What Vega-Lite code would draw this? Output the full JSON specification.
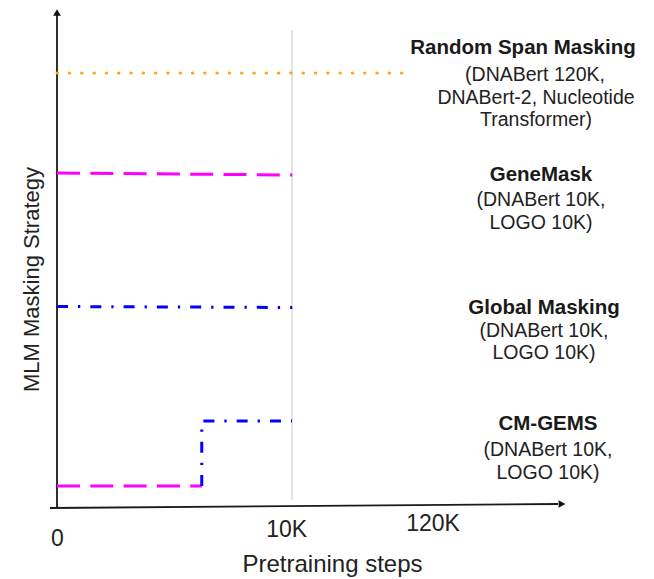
{
  "$schema": "https://vega.github.io/schema/vega-lite/v6.json",
  "width": 654,
  "height": 579,
  "autosize": {"type": "none"},
  "padding": 0,
  "background": "white",
  "config": {"view": {"stroke": null}, "text": {"font": "Liberation Sans"}},
  "datasets": {
    "paths": [
      {"series": "random", "step": 0, "level": 8.66, "ord": 1},
      {"series": "random", "step": 120000, "level": 8.66, "ord": 2},
      {"series": "genemask", "step": 0, "level": 6.66, "ord": 1},
      {"series": "genemask", "step": 10300, "level": 6.62, "ord": 2},
      {"series": "global", "step": 0, "level": 3.99, "ord": 1},
      {"series": "global", "step": 10300, "level": 3.97, "ord": 2},
      {"series": "cm_mask", "step": 0, "level": 0.4, "ord": 1},
      {"series": "cm_mask", "step": 6160, "level": 0.4, "ord": 2},
      {"series": "cm_step", "step": 6160, "level": 0.4, "ord": 1},
      {"series": "cm_step", "step": 6160, "level": 1.7, "ord": 2},
      {"series": "cm_step", "step": 10000, "level": 1.7, "ord": 3}
    ],
    "guides": [
      {"series": "yaxis", "step": 0, "level": -0.04, "ord": 1},
      {"series": "yaxis", "step": 0, "level": 9.9, "ord": 2},
      {"series": "xaxis", "step": -300, "level": -0.04, "ord": 1},
      {"series": "xaxis", "step": 276000, "level": 0.04, "ord": 2},
      {"series": "grid", "step": 10000, "level": 0.12, "ord": 1},
      {"series": "grid", "step": 10000, "level": 9.52, "ord": 2}
    ],
    "arrows": [
      {"dir": "up", "step": 0, "level": 9.87},
      {"dir": "right", "step": 280000, "level": 0.04}
    ],
    "labels": [
      {"t": "Random Span Masking", "step": 241000, "level": 9.05, "b": 1},
      {"t": "(DNABert 120K,", "step": 253000, "level": 8.51, "b": 0},
      {"t": "DNABert-2, Nucleotide", "step": 254000, "level": 8.05, "b": 0},
      {"t": "Transformer)", "step": 254000, "level": 7.61, "b": 0},
      {"t": "GeneMask", "step": 259000, "level": 6.5, "b": 1},
      {"t": "(DNABert 10K,", "step": 259000, "level": 6.0, "b": 0},
      {"t": "LOGO 10K)", "step": 259000, "level": 5.54, "b": 0},
      {"t": "Global Masking", "step": 262000, "level": 3.846, "b": 1},
      {"t": "(DNABert 10K,", "step": 262000, "level": 3.38, "b": 0},
      {"t": "LOGO 10K)", "step": 262000, "level": 2.94, "b": 0},
      {"t": "CM-GEMS", "step": 266000, "level": 1.52, "b": 1},
      {"t": "(DNABert 10K,", "step": 266000, "level": 1.0, "b": 0},
      {"t": "LOGO 10K)", "step": 266000, "level": 0.54, "b": 0}
    ],
    "ticks": [
      {"t": "0", "step": 20, "level": -0.8},
      {"t": "10K", "step": 9770, "level": -0.62},
      {"t": "120K", "step": 151000, "level": -0.5}
    ],
    "xtitle": [{"t": "Pretraining steps", "step": 50500, "level": -1.32}],
    "ytitle": [{"t": "MLM Masking Strategy", "step": -766, "level": 4.53}]
  },
  "layer": [
    {
      "data": {"name": "guides"},
      "transform": [{"filter": "datum.series == 'grid'"}],
      "mark": {"type": "line", "color": "#c8c8c8", "strokeWidth": 1},
      "encoding": {
        "x": {"field": "step", "type": "quantitative", "axis": null, "scale": {"type": "linear", "domain": [-2426, 0, 10000, 120000, 372000], "range": [0, 57, 292, 402, 654], "zero": false, "nice": false}},
        "y": {"field": "level", "type": "quantitative", "axis": null, "scale": {"type": "linear", "domain": [-1.46, 10.12], "range": [579, 0], "zero": false, "nice": false}},
        "order": {"field": "ord"}
      }
    },
    {
      "data": {"name": "guides"},
      "transform": [{"filter": "datum.series == 'yaxis'"}],
      "mark": {"type": "line", "color": "#1a1a1a", "strokeWidth": 1.8},
      "encoding": {
        "x": {"field": "step", "type": "quantitative"},
        "y": {"field": "level", "type": "quantitative"},
        "order": {"field": "ord"}
      }
    },
    {
      "data": {"name": "guides"},
      "transform": [{"filter": "datum.series == 'xaxis'"}],
      "mark": {"type": "line", "color": "#1a1a1a", "strokeWidth": 1.8},
      "encoding": {
        "x": {"field": "step", "type": "quantitative"},
        "y": {"field": "level", "type": "quantitative"},
        "order": {"field": "ord"}
      }
    },
    {
      "data": {"name": "arrows"},
      "transform": [{"filter": "datum.dir == 'up'"}],
      "mark": {"type": "point", "shape": "triangle-up", "filled": true, "color": "#111111", "size": 60, "opacity": 1},
      "encoding": {
        "x": {"field": "step", "type": "quantitative"},
        "y": {"field": "level", "type": "quantitative"}
      }
    },
    {
      "data": {"name": "arrows"},
      "transform": [{"filter": "datum.dir == 'right'"}],
      "mark": {"type": "point", "shape": "triangle-right", "filled": true, "color": "#111111", "size": 60, "opacity": 1},
      "encoding": {
        "x": {"field": "step", "type": "quantitative"},
        "y": {"field": "level", "type": "quantitative"}
      }
    },
    {
      "data": {"name": "paths"},
      "transform": [{"filter": "datum.series == 'random'"}],
      "mark": {"type": "line", "color": "#ffa31a", "strokeWidth": 3, "strokeCap": "round", "strokeDash": [0.5, 11.8]},
      "encoding": {
        "x": {"field": "step", "type": "quantitative"},
        "y": {"field": "level", "type": "quantitative"},
        "order": {"field": "ord"}
      }
    },
    {
      "data": {"name": "paths"},
      "transform": [{"filter": "datum.series == 'genemask' || datum.series == 'cm_mask'"}],
      "mark": {"type": "line", "color": "#ff00ff", "strokeWidth": 3, "strokeDash": [23, 10.3]},
      "encoding": {
        "x": {"field": "step", "type": "quantitative"},
        "y": {"field": "level", "type": "quantitative"},
        "detail": {"field": "series"},
        "order": {"field": "ord"}
      }
    },
    {
      "data": {"name": "paths"},
      "transform": [{"filter": "datum.series == 'global' || datum.series == 'cm_step'"}],
      "mark": {"type": "line", "color": "#0000ff", "strokeWidth": 3, "strokeDash": [11, 10, 2.3, 10]},
      "encoding": {
        "x": {"field": "step", "type": "quantitative"},
        "y": {"field": "level", "type": "quantitative"},
        "detail": {"field": "series"},
        "order": {"field": "ord"}
      }
    },
    {
      "data": {"name": "labels"},
      "transform": [{"filter": "datum.b == 1"}],
      "mark": {"type": "text", "fontSize": 20.5, "fontWeight": "bold", "color": "#1a1a1a", "align": "center", "baseline": "alphabetic"},
      "encoding": {
        "x": {"field": "step", "type": "quantitative"},
        "y": {"field": "level", "type": "quantitative"},
        "text": {"field": "t", "type": "nominal"}
      }
    },
    {
      "data": {"name": "labels"},
      "transform": [{"filter": "datum.b == 0"}],
      "mark": {"type": "text", "fontSize": 19.5, "color": "#222222", "align": "center", "baseline": "alphabetic"},
      "encoding": {
        "x": {"field": "step", "type": "quantitative"},
        "y": {"field": "level", "type": "quantitative"},
        "text": {"field": "t", "type": "nominal"}
      }
    },
    {
      "data": {"name": "ticks"},
      "mark": {"type": "text", "fontSize": 23, "color": "#222222", "align": "center", "baseline": "alphabetic"},
      "encoding": {
        "x": {"field": "step", "type": "quantitative"},
        "y": {"field": "level", "type": "quantitative"},
        "text": {"field": "t", "type": "nominal"}
      }
    },
    {
      "data": {"name": "xtitle"},
      "mark": {"type": "text", "fontSize": 24, "color": "#222222", "align": "center", "baseline": "alphabetic"},
      "encoding": {
        "x": {"field": "step", "type": "quantitative"},
        "y": {"field": "level", "type": "quantitative"},
        "text": {"field": "t", "type": "nominal"}
      }
    },
    {
      "data": {"name": "ytitle"},
      "mark": {"type": "text", "fontSize": 22, "color": "#222222", "align": "center", "baseline": "alphabetic", "angle": 270},
      "encoding": {
        "x": {"field": "step", "type": "quantitative"},
        "y": {"field": "level", "type": "quantitative"},
        "text": {"field": "t", "type": "nominal"}
      }
    }
  ]
}
